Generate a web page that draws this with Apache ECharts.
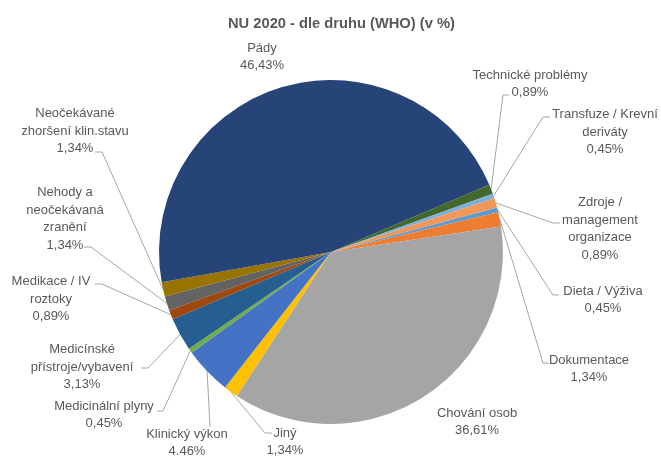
<!DOCTYPE html>
<html>
<head>
<meta charset="utf-8">
<script src="https://cdn.jsdelivr.net/npm/echarts@6/dist/echarts.min.js"></script>
<style>html,body{margin:0;padding:0;background:#fff}#c{width:661px;height:456px}</style>
</head>
<body>
<div id="c"></div>
<script>
// ---- data ----
const categories = ['Dieta / Výživa','Dokumentace','Chování osob','Jiný','Klinický výkon','Medicinální plyny','Medicínské přístroje/vybavení','Medikace / IV roztoky','Nehody a neočekávaná zranění','Neočekávané zhoršení klin.stavu','Pády','Technické problémy','Transfuze / Krevní deriváty','Zdroje / management organizace'];
const values = [0.45, 1.34, 36.61, 1.34, 4.46, 0.45, 3.13, 0.89, 1.34, 1.34, 46.43, 0.89, 0.45, 0.89];
const valueLabels = ['0,45%','1,34%','36,61%','1,34%','4.46%','0,45%','3,13%','0,89%','1,34%','1,34%','46,43%','0,89%','0,45%','0,89%'];
const wrappedNames = ['Dieta / Výživa','Dokumentace','Chování osob','Jiný','Klinický výkon','Medicinální plyny','Medicínské\npřístroje/vybavení','Medikace / IV\nroztoky','Nehody a\nneočekávaná\nzranění','Neočekávané\nzhoršení klin.stavu','Pády','Technické problémy','Transfuze / Krevní\nderiváty','Zdroje /\nmanagement\norganizace'];

// ---- styles / layout ----
const colors = ['#5B9BD5','#ED7D31','#A5A5A5','#FFC000','#4472C4','#70AD47','#255E91','#9E480E','#636363','#997300','#264478','#43682B','#7CAFDD','#F1975A'];
const labelCenters = [[603,300],[589,369],[477,422],[285,442],[187,443],[104,415],[82,367],[51,299],[65,219],[75,131],[262,57],[530,84],[605,132],[600,229]];
// leader: [bend, end] or null
const leaders = [
  [[553,295],[559,295]],
  [[543,363],[549,363]],
  null,
  [[265,433],[272,433]],
  [[210,427],[210,427]],
  [[163,411],[157,411]],
  [[148,368],[141,368]],
  [[102,284],[95,284]],
  [[91,247],[84,247]],
  [[102,152],[95,152]],
  null,
  [[503,95],[509,95]],
  [[543,117],[550,117]],
  [[553,223],[560,223]]
];

const chart = echarts.init(document.getElementById('c'));
const FONT = 'Liberation Sans';
chart.setOption({
  animation: false,
  title: {
    text: 'NU 2020 - dle druhu (WHO) (v %)',
    left: 223, top: 11,
    textStyle: {fontFamily: FONT, fontSize: 14.7, fontWeight: 'bold', color: '#595959'}
  },
  series: [{
    type: 'pie',
    center: [331, 252],
    radius: 172,
    startAngle: 15,
    clockwise: true,
    avoidLabelOverlap: false,
    data: categories.map((c, i) => ({
      name: c, value: values[i],
      itemStyle: {color: colors[i]},
      label: {formatter: wrappedNames[i] + '\n' + valueLabels[i]},
      labelLine: {show: leaders[i] !== null}
    })),
    label: {
      show: true, position: 'outside',
      fontFamily: FONT, fontSize: 13, color: '#595959', lineHeight: 17.5,
      align: 'center'
    },
    labelLine: {show: true, length: 10, length2: 10, lineStyle: {color: '#A6A6A6', width: 1}},
    labelLayout: function (p) {
      const i = p.dataIndex;
      const res = {x: labelCenters[i][0], y: labelCenters[i][1], align: 'center', verticalAlign: 'middle'};
      if (leaders[i] && p.labelLinePoints) {
        res.labelLinePoints = [p.labelLinePoints[0], leaders[i][0], leaders[i][1]];
      }
      return res;
    }
  }]
});
</script>
</body>
</html>
